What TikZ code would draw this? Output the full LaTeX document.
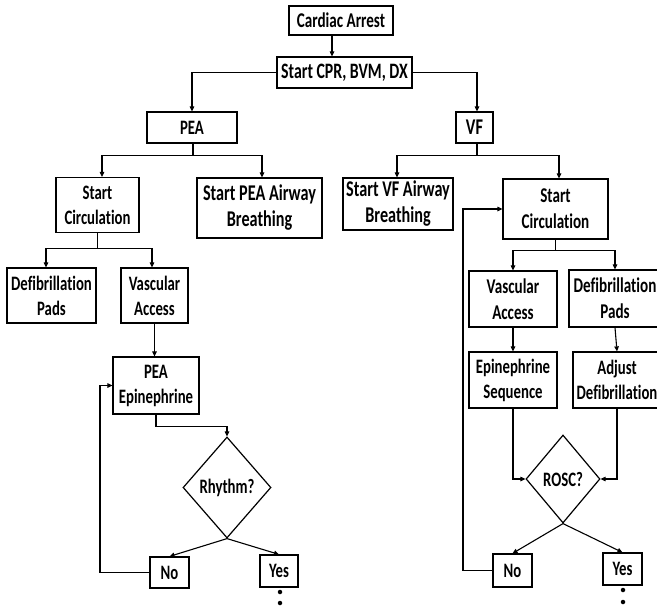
\documentclass[tikz,border=0pt]{standalone}
\usepackage{fontspec}
\setmainfont{Carlito}[FakeStretch=0.72, Ligatures={NoCommon}]
\usetikzlibrary{arrows.meta,shapes.geometric}
\begin{document}
\begin{tikzpicture}[x=1pt,y=-1pt,
  box/.style={draw, line width=1.2pt, align=center, inner sep=0pt,
    font=\bfseries\fontsize{20.5}{25}\selectfont},
  big/.style={font=\bfseries\fontsize{22.5}{26}\selectfont},
  dec/.style={diamond, draw, line width=1.2pt, inner sep=0pt,
    font=\bfseries\fontsize{20.5}{25}\selectfont},
  ln/.style={line width=1.1pt},
  arr/.style={line width=1.1pt, -{Triangle[length=5pt,width=4.5pt]}},
  dot/.style={circle, fill, inner sep=0pt, minimum size=4.5pt}]
\useasboundingbox (0,0) rectangle (657,608);
\clip (0,0) rectangle (657,608);
% top
\node[box, minimum width=104, minimum height=29, font=\bfseries\fontsize{21}{25}\selectfont] (ca) at (341,20.5) {Cardiac Arrest};
\node[box, minimum width=135, minimum height=31, font=\bfseries\fontsize{22}{26}\selectfont] (cpr) at (344.5,72.5) {Start CPR, BVM, DX};
\node[box, minimum width=90, minimum height=31] (pea) at (192,127.5) {PEA};
\node[box, minimum width=37, minimum height=31, big] (vf) at (474.5,127.5) {VF};
% PEA branch
\node[box, minimum width=83, minimum height=55] (scL) at (97.5,205) {Start\\Circulation};
\node[box, minimum width=125, minimum height=60, big] (peaAir) at (259.5,208) {Start PEA Airway\\Breathing};
\node[box, minimum width=89, minimum height=55] (defL) at (51.5,295.5) {Defibrillation\\Pads};
\node[box, minimum width=67, minimum height=55] (vaL) at (154.5,295.5) {Vascular\\Access};
\node[box, minimum width=86, minimum height=57] (peaEpi) at (156,385.5) {PEA\\Epinephrine};
\node[dec, minimum width=88, minimum height=101] (rhy) at (227,487.5) {Rhythm?};
\node[box, minimum width=39, minimum height=31] (noL) at (169.5,572.5) {No};
\node[box, minimum width=38, minimum height=32] (yesL) at (279,571) {Yes};
\node[dot] (dL1) at (280,592) {};
\node[dot] (dL2) at (280,603) {};
% VF branch
\node[box, minimum width=110, minimum height=52, big] (vfAir) at (398,204) {Start VF Airway\\Breathing};
\node[box, minimum width=105, minimum height=60, font=\bfseries\fontsize{21}{26}\selectfont] (scR) at (555.5,209) {Start\\Circulation};
\node[box, minimum width=88, minimum height=56, font=\bfseries\fontsize{21}{26}\selectfont] (vaR) at (513,299) {Vascular\\Access};
\node[box, minimum width=92, minimum height=57, font=\bfseries\fontsize{21}{26}\selectfont] (defR) at (615,298.5) {Defibrillation\\Pads};
\node[box, minimum width=88, minimum height=56] (epiSeq) at (513,380) {Epinephrine\\Sequence};
\node[box, minimum width=88, minimum height=56] (adjDef) at (617,380) {Adjust\\Defibrillation};
\node[dec, minimum width=74, minimum height=88] (rosc) at (563,479) {ROSC?};
\node[box, minimum width=39, minimum height=33] (noR) at (512.5,570.5) {No};
\node[box, minimum width=39, minimum height=32] (yesR) at (622.5,569) {Yes};
\node[dot] (dR1) at (623,590) {};
\node[dot] (dR2) at (623,602) {};
% connectors top
\draw[arr] ([xshift=-9pt]ca.south) -- ([xshift=-12.5pt]cpr.north);
\draw[arr] (cpr.west) -| (pea.north);
\draw[arr] (cpr.east) -| ([xshift=2.5pt]vf.north);
% PEA side
\draw[ln] ([xshift=1pt]pea.south) -- ++(0,12) coordinate (pj);
\draw[arr] (pj) -| ([xshift=4.5pt]scL.north);
\draw[arr] (pj) -| ([xshift=2.5pt]peaAir.north);
\draw[ln] (scL.south) -- ++(0,15) coordinate (sj);
\draw[arr] (sj) -| ([xshift=-5.5pt]defL.north);
\draw[arr] (sj) -| ([xshift=-2.5pt]vaL.north);
\draw[arr] (vaL.south) -- (vaL.south |- peaEpi.north);
\draw[ln] (peaEpi.south) -- ++(0,12) coordinate (ej);
\draw[arr] (ej) -| (rhy.north);
\draw[arr] (rhy.south) -- (noL.north);
\draw[arr] (rhy.south) -- (yesL.north);
\coordinate (lpL) at (100,0);
\draw[arr] (noL.west) -- (noL.west -| lpL) |- (peaEpi.west);
% VF side
\draw[ln] ([xshift=2.5pt]vf.south) -- ++(0,12) coordinate (vj);
\draw[arr] (vj) -| ([xshift=-1pt]vfAir.north);
\draw[arr] (vj) -| ([xshift=3.5pt]scR.north);
\draw[ln] (scR.south) -- ++(0,11) coordinate (rj);
\draw[arr] (rj) -| (vaR.north);
\draw[arr] (rj) -| (defR.north);
\draw[arr] (vaR.south) -- (vaR.south |- epiSeq.north);
\draw[arr] (defR.south) -- ([xshift=2pt]defR.south |- adjDef.north);
\draw[arr] (epiSeq.south) |- (rosc.west);
\draw[arr] (adjDef.south) |- (rosc.east);
\draw[arr] (rosc.south) -- (noR.north);
\draw[arr] (rosc.south) -- (yesR.north);
\coordinate (lpR) at (463,0);
\draw[arr] (noR.west) -- (noR.west -| lpR) |- (scR.west);
\end{tikzpicture}
\end{document}
